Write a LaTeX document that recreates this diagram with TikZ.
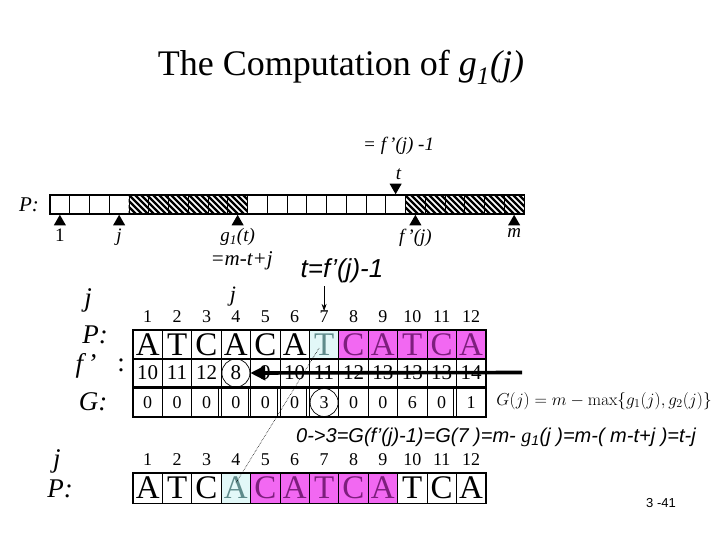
\documentclass[tikz,border=0pt]{standalone}
\usepackage[no-math]{fontspec}
\setmainfont{Liberation Serif}
\setsansfont{Liberation Sans}
\usepackage{tikz}
\usetikzlibrary{arrows.meta, positioning, patterns, shapes.geometric}
\definecolor{pinkhi}{RGB}{242,104,242}
\definecolor{pinktxt}{RGB}{125,30,125}
\definecolor{cyanhi}{RGB}{226,248,248}
\definecolor{cyantxt}{RGB}{95,140,140}
\pgfdeclarepatternformonly{fathatch}{\pgfqpoint{-1pt}{-1pt}}{\pgfqpoint{7pt}{7pt}}{\pgfqpoint{6pt}{6pt}}{%
  \pgfsetlinewidth{2.2pt}%
  \pgfpathmoveto{\pgfqpoint{-0.3pt}{6.3pt}}%
  \pgfpathlineto{\pgfqpoint{6.3pt}{-0.3pt}}%
  \pgfusepath{stroke}}
\newcommand{\colx}[1]{133+29.4*(#1-0.5)}
\tikzset{
  barcell/.style={rectangle, draw, line width=0.8pt, minimum width=19.75pt,
    minimum height=19pt, inner sep=0pt},
  uptri/.style={regular polygon, regular polygon sides=3, fill=black,
    minimum size=14pt, inner sep=0pt, anchor=north},
  downtri/.style={uptri, shape border rotate=180, anchor=south},
  toplbl/.style={font=\fontsize{19}{20}\selectfont\itshape, inner sep=0pt},
  tcell/.style={rectangle, draw, line width=0.9pt, minimum width=29.4pt,
    minimum height=27.5pt, inner sep=0pt},
  letter/.style={font=\fontsize{33}{33}\selectfont},
  fnum/.style={font=\fontsize{21}{21}\selectfont},
  gnum/.style={font=\fontsize{18}{18}\selectfont},
  pinkcell/.style={fill=pinkhi, text=pinktxt},
  cyancell/.style={fill=cyanhi, text=cyantxt},
  colnum/.style={font=\fontsize{18}{18}\selectfont, inner sep=0pt},
  biglbl/.style={font=\fontsize{27}{27}\selectfont\itshape, inner sep=0pt},
  sanslbl/.style={font=\fontsize{26}{26}\selectfont\sffamily\itshape, inner sep=0pt},
  ring/.style={circle, draw, line width=0.7pt, minimum size=28pt, inner sep=0pt},
  bigarrow/.style={-{Triangle[length=15pt,width=14pt]}, line width=3.6pt},
  smallarrow/.style={-{Stealth[length=7pt,width=5pt]}, line width=0.6pt},
  dotline/.style={densely dotted, line width=0.6pt},
}

\begin{document}
\begin{tikzpicture}[x=1pt, y=-1pt]
  \fill[white] (0,0) rectangle (720,540);
  \useasboundingbox (0,0) rectangle (720,540);

  \node[font=\fontsize{36}{40}\selectfont, anchor=base] (title) at (341,76)
       {The Computation of \textit{g\textsubscript{1}(j)}};

  % pattern bar
  \node[toplbl, font=\fontsize{21}{21}\selectfont\itshape] (barP) at (29,205) {P:};
  \foreach \i in {1,...,24}
    \node[barcell] (s\i) at ({50+19.75*(\i-0.5)},204.5) {};
  \fill[pattern=fathatch] (s5.north west) rectangle (s10.south east);
  \fill[pattern=fathatch] (s19.north west) rectangle (s24.south east);
  \draw[line width=1.8pt] (s1.north west) rectangle (s24.south east);

  \node[uptri] (triOne) at (s1.south) {};
  \node[uptri] (triJ) at (s4.south) {};
  \node[uptri] (triG) at (s10.south) {};
  \node[uptri] (triF) at (s19.south) {};
  \node[uptri] (triM) at (s24.south) {};
  \node[downtri] (triT) at (s18.north) {};

  \node[toplbl, font=\fontsize{19}{20}\selectfont, below=3pt of triOne] (lblOne) {1};
  \node[toplbl, below=3pt of triJ] (lblJ) {j};
  \node[toplbl, below=3pt of triG] (lblG) {g\textsubscript{1}(t)};
  \node[toplbl, font=\fontsize{21}{21}\selectfont\itshape, below=5pt of lblG, xshift=4pt] (lblGeq) {=m-t+j};
  \node[toplbl, below=3pt of triF] (lblF) {f\,'(j)};
  \node[toplbl, below=3pt of triM] (lblM) {m};
  \node[toplbl, above=4pt of triT, xshift=3pt] (lblT) {t};
  \node[toplbl, above=13pt of lblT] (lblTeq) {= f\,'(j) -1};

  % f' table
  \node[sanslbl] (tdef) at (342,271) {t=f'(j)-1};
  \node[toplbl, font=\fontsize{22}{22}\selectfont\itshape] (jtop) at (233,297) {j};
  \node[biglbl] (jlab) at (88,300) {j};
  \node[biglbl] (plab) at (95,335) {P:};
  \node[biglbl] (flab) at (86,366) {f\,'};
  \node[biglbl, font=\fontsize{27}{27}\selectfont] (fcolon) at (121,365) {:};
  \node[biglbl] (glab) at (93,402) {G:};

  \foreach \i in {1,...,12}
    \node[colnum] (n\i) at ({\colx{\i}},317) {\i};
  \foreach \L [count=\i] in {A,T,C,A,C,A}
    \node[tcell, letter] (p\i) at ({\colx{\i}},344.5) {\L};
  \node[tcell, letter, cyancell] (p7) at ({\colx{7}},344.5) {T};
  \foreach \L [count=\i from 8] in {C,A,T,C,A}
    \node[tcell, letter, pinkcell] (p\i) at ({\colx{\i}},344.5) {\L};
  \foreach \v [count=\i] in {10,11,12,8,9,10,11,12,13,13,13,14}
    \node[tcell, fnum] (f\i) at ({\colx{\i}},373) {\v};
  \foreach \v [count=\i] in {0,0,0,0,0,0,3,0,0,6,0,1}
    \node[tcell, gnum] (g\i) at ({\colx{\i}},402.5) {\v};
  \foreach \k in {3,4,5,6,11}
    \draw[line width=0.9pt] ([xshift=-3pt]g\k.north east) -- ([xshift=-3pt]g\k.south east);
  \draw[line width=1.8pt] (p1.north west) rectangle (f12.south east);
  \draw[line width=1.8pt] (g1.north west) rectangle (g12.south east);

  \node[ring] (ring8) at (f4) {};
  \node[ring] (ring3) at (g7) {};
  \coordinate (tail) at (522,372.5);
  \draw[bigarrow] (tail) -- (ring8.east);
  \draw[smallarrow, shorten <=3pt] (tdef.south -| n7) -- (n7.north);

  \node[font=\fontsize{17.5}{17.5}\selectfont] (gform) at (604,401)
       {$G(j) = m - \max\{g_1(j), g_2(j)\}$};
  \node[font=\fontsize{20}{20}\selectfont\sffamily\itshape] (gline) at (496,437)
       {0->3=G(f'(j)-1)=G(7 )=m- {\rmfamily g}\textsubscript{1}(j )=m-( m-t+j )=t-j};

  % shifted pattern
  \node[biglbl] (jlab2) at (57,461) {j};
  \node[biglbl] (plab2) at (60,489) {P:};
  \foreach \i in {1,...,12}
    \node[colnum] (m\i) at ({\colx{\i}},460) {\i};
  \foreach \L [count=\i] in {A,T,C}
    \node[tcell, letter, minimum height=30pt] (b\i) at ({\colx{\i}},488) {\L};
  \node[tcell, letter, cyancell, minimum height=30pt] (b4) at ({\colx{4}},488) {A};
  \foreach \L [count=\i from 5] in {C,A,T,C,A}
    \node[tcell, letter, pinkcell, minimum height=30pt] (b\i) at ({\colx{\i}},488) {\L};
  \foreach \L [count=\i from 10] in {T,C,A}
    \node[tcell, letter, minimum height=30pt] (b\i) at ({\colx{\i}},488) {\L};
  \draw[line width=1.8pt] (b1.north west) rectangle (b12.south east);

  \draw[dotline] ([xshift=-5pt,yshift=-3.5pt]p7.center) -- ([yshift=5pt]b4.center);

  \node[font=\fontsize{13}{13}\selectfont\sffamily] (pnum) at (661,503) {3 -41};
\end{tikzpicture}
\end{document}
